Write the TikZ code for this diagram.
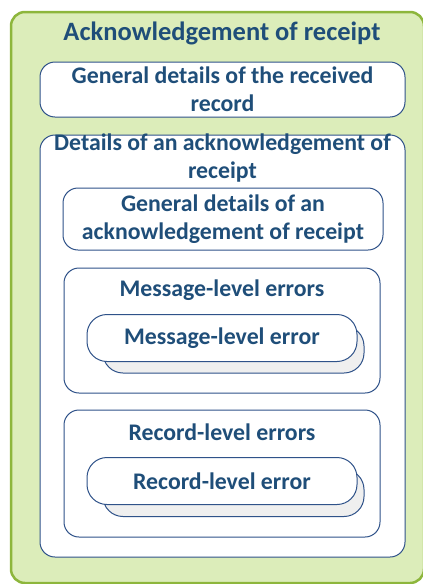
\documentclass[tikz,border=0pt]{standalone}
\usepackage{fontspec}
\setmainfont{Carlito}
\usetikzlibrary{positioning}
\definecolor{ackgreen}{HTML}{DCEDBA}
\definecolor{ackborder}{HTML}{8DB63C}
\definecolor{ackblue}{HTML}{1F4E79}
\definecolor{ackline}{HTML}{2F5289}
\definecolor{ackshadow}{HTML}{EFEFEF}
\tikzset{
  panel/.style ={rectangle,draw=ackline,fill=white,rounded corners=15pt,
                 line width=1pt,inner sep=0pt},
  pill/.style  ={rectangle,draw=ackline,fill=white,rounded corners=20pt,
                 line width=1pt,inner sep=0pt,align=center,text=ackblue,
                 font=\fontsize{23.8}{28}\selectfont\bfseries},
  heading/.style={align=center,text=ackblue,inner sep=0pt,
                 font=\fontsize{23.8}{28}\selectfont\bfseries}
}

\begin{document}
\begin{tikzpicture}[x=1pt,y=-1pt,
  outer/.style={draw=ackborder,fill=ackgreen,line width=2.5pt,rounded corners=14pt}
]
  \useasboundingbox (0,0) rectangle (423,584);
  \clip (0,0) rectangle (423,584);

  % Outer frame
  \draw[outer] (11,12) rectangle (424,583);
  \node[heading,font=\fontsize{26.5}{30}\selectfont\bfseries] (title) at (222,33)
    {Acknowledgement of receipt};

  % General details of the record
  \node (gdr) at (222.5,89.5) [pill,rounded corners=15pt,minimum width=365pt,minimum height=55pt]
    {General details of the received\\record};

  % Details of the acknowledgement
  \node (dar) at (222.5,346) [panel,minimum width=365pt,minimum height=422pt] {};
  \node (darhead) at (222.5,158.5) [heading] {Details of an acknowledgement of\\receipt};

  \node (gda) at (223,219) [pill,rounded corners=15pt,minimum width=320pt,minimum height=62pt]
    {General details of an\\acknowledgement of receipt};

  % Message-level errors
  \node (mle) at (222,330.5) [panel,minimum width=316pt,minimum height=125pt] {};
  \node (mlehead) at (222,290) [heading] {Message-level errors};
  \node (mleback) at (233.5,349.5) [pill,fill=ackshadow,minimum width=261pt,minimum height=47pt] {};
  \node (mleitem) at (222,338) [pill,minimum width=270pt,minimum height=47pt] {Message-level error};

  % Record-level errors
  \node (rle) at (222,473.5) [panel,minimum width=316pt,minimum height=127pt] {};
  \node (rlehead) at (222,432) [heading] {Record-level errors};
  \node (rleback) at (233.5,493) [pill,fill=ackshadow,minimum width=261pt,minimum height=47pt] {};
  \node (rleitem) at (222,481) [pill,minimum width=270pt,minimum height=47pt] {Record-level error};
\end{tikzpicture}
\end{document}
